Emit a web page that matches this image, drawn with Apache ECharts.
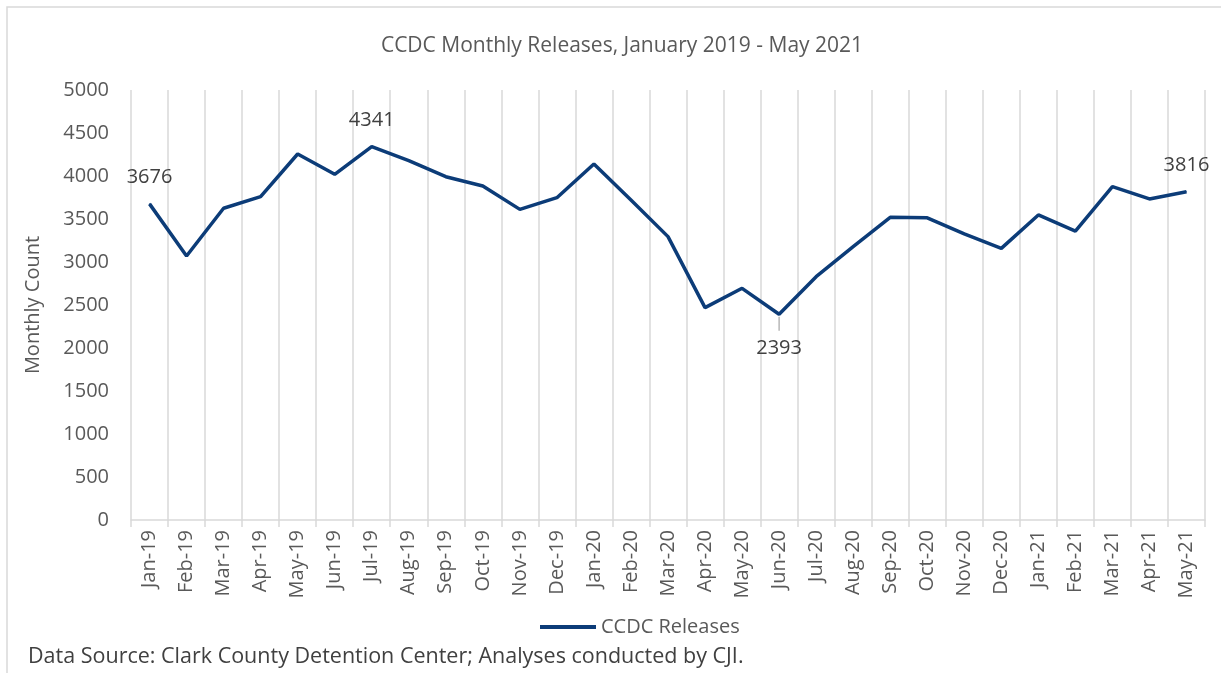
<!DOCTYPE html>
<html>
<head>
<meta charset="utf-8">
<script src="https://cdn.jsdelivr.net/npm/echarts@6/dist/echarts.min.js"></script>
<style>
  html, body { margin: 0; padding: 0; background: #fff; }
  #chart { width: 1221px; height: 673px; }
</style>
</head>
<body>
<div id="chart"></div>
<script>
const months = ['Jan-19', 'Feb-19', 'Mar-19', 'Apr-19', 'May-19', 'Jun-19', 'Jul-19', 'Aug-19', 'Sep-19', 'Oct-19',
  'Nov-19', 'Dec-19', 'Jan-20', 'Feb-20', 'Mar-20', 'Apr-20', 'May-20', 'Jun-20', 'Jul-20', 'Aug-20',
  'Sep-20', 'Oct-20', 'Nov-20', 'Dec-20', 'Jan-21', 'Feb-21', 'Mar-21', 'Apr-21', 'May-21'];
const releases = [3676, 3070, 3625, 3760, 4256, 4020, 4341, 4178, 3992, 3884,
  3612, 3748, 4140, 3721, 3295, 2469, 2694, 2393, 2829, 3178,
  3519, 3514, 3326, 3159, 3547, 3360, 3876, 3733, 3816];
const labelledAbove = ['Jan-19', 'Jul-19', 'May-21'];
const labelledBelow = ['Jun-20'];

const FONT = '"Open Sans", "Liberation Sans", sans-serif';
const gray = '#595959';
const lineColor = '#0c3c78';

function pointData() {
  return releases.map((v, i) => {
    const m = months[i];
    if (labelledAbove.includes(m)) {
      return { value: v, label: { show: true, position: 'top', distance: 16 } };
    }
    if (labelledBelow.includes(m)) {
      // short grey leader above the number, like Excel's label line
      return {
        value: v,
        label: {
          show: true, position: 'bottom', distance: 2,
          formatter: '{bar|}\n{v|{c}}',
          rich: {
            bar: { width: 1.2, height: 14, backgroundColor: '#a6a6a6', align: 'center' },
            v: { color: '#404040', fontSize: 20, fontFamily: FONT, lineHeight: 26, padding: [9, 0, 0, 0], align: 'center' },
          },
        },
      };
    }
    return v;
  });
}

const chart = echarts.init(document.getElementById('chart'));
chart.setOption({
  animation: false,
  textStyle: { fontFamily: FONT },
  title: {
    text: 'CCDC Monthly Releases, January 2019 - May 2021',
    left: 617, top: 31, textAlign: 'center',
    textStyle: { color: gray, fontSize: 21, fontWeight: 'normal', fontFamily: FONT },
  },
  legend: {
    bottom: 31, left: 535,
    itemWidth: 56, itemHeight: 4, itemGap: 4,
    icon: 'rect',
    textStyle: { color: gray, fontSize: 20, fontFamily: FONT },
    data: ['CCDC Releases'],
  },
  graphic: [
    { type: 'rect', shape: { x: 7, y: 7, width: 1400, height: 800 }, style: { fill: 'none', stroke: '#d9d9d9', lineWidth: 1.5 }, silent: true },
    { type: 'text', left: 28, top: 646, style: { text: 'Data Source: Clark County Detention Center; Analyses conducted by CJI.', fill: '#404040', fontSize: 21.5, fontFamily: FONT } },
  ],
  grid: { left: 131, right: 16, top: 90, bottom: 153 },
  xAxis: {
    type: 'category',
    data: months,
    boundaryGap: true,
    axisLine: { lineStyle: { color: '#d9d9d9', width: 1.5 } },
    axisTick: { show: true, length: 7, interval: 0, lineStyle: { color: '#d9d9d9', width: 1.5 } },
    axisLabel: { interval: 0, rotate: 90, margin: 10, color: gray, fontSize: 20, fontFamily: FONT },
    splitLine: { show: true, interval: 0, lineStyle: { color: '#d9d9d9', width: 1.5 } },
  },
  yAxis: {
    type: 'value',
    min: 0, max: 5000, interval: 500,
    name: 'Monthly Count',
    nameLocation: 'middle',
    nameGap: 88,
    nameTextStyle: { color: gray, fontSize: 20, fontFamily: FONT },
    axisLine: { show: false },
    axisTick: { show: false },
    axisLabel: { margin: 22, color: gray, fontSize: 20, fontFamily: FONT, formatter: v => String(v) },
    splitLine: { show: false },
  },
  series: [{
    name: 'CCDC Releases',
    type: 'line',
    symbol: 'circle',
    symbolSize: 1,
    showSymbol: true,
    color: lineColor,
    itemStyle: { color: lineColor },
    lineStyle: { color: lineColor, width: 3.5 },
    label: { show: false, color: '#404040', fontSize: 20, fontFamily: FONT },
    data: pointData(),
  }],
});
</script>
</body>
</html>
